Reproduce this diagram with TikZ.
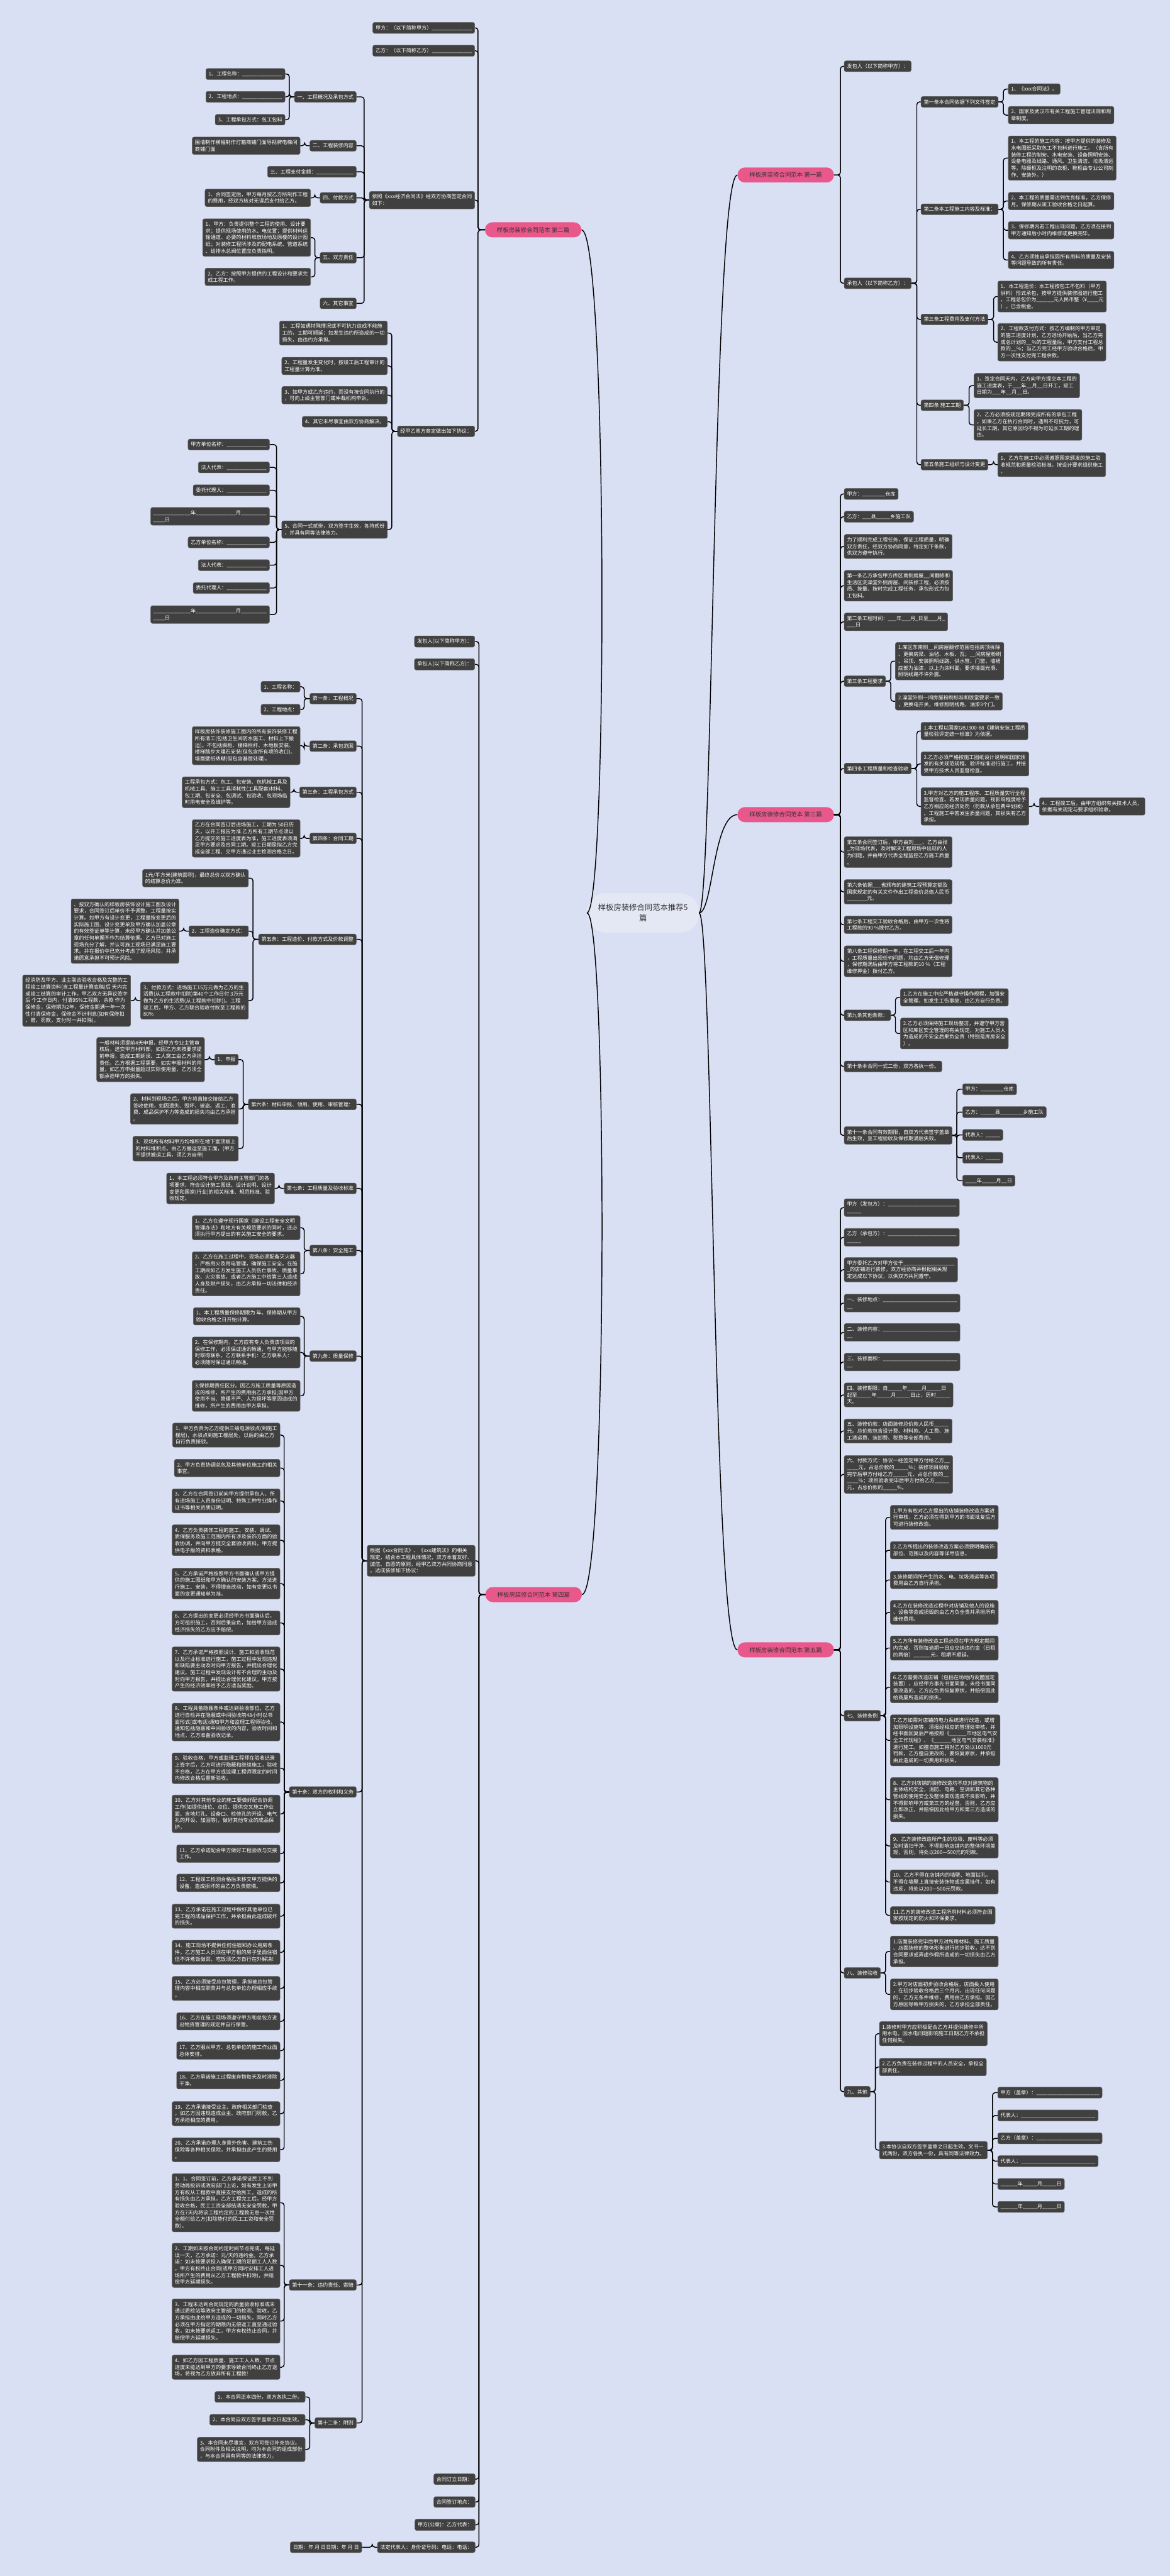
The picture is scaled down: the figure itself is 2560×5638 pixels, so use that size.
\documentclass[tikz,border=0pt]{standalone}
\usepackage{fontspec}
\setmainfont{Noto Sans CJK SC}
\definecolor{bgc}{RGB}{217,224,243}
\definecolor{boxc}{RGB}{64,64,64}
\definecolor{boxb}{RGB}{95,95,95}
\definecolor{pinkc}{RGB}{233,88,138}
\definecolor{cenc}{RGB}{228,232,245}
\newcommand\bx{\fontsize{11.2pt}{14.7pt}\selectfont}
\newcount\uscnt
\newcommand\us[1]{\uscnt=0\relax\loop\ifnum\uscnt<#1\relax\_\advance\uscnt by 1\relax\repeat}
\tikzset{
  box/.style={fill=boxc, draw=boxb, line width=0.8pt, text=white, rounded corners=4pt,
    inner xsep=6pt, inner ysep=6.5pt, align=left, font=\bx},
  conn/.style={draw=black, line width=2pt, rounded corners=6pt},
  pinkn/.style={fill=pinkc, rounded corners=16pt, minimum height=33pt, minimum width=211pt,
    font=\fontsize{13pt}{15pt}\selectfont, text=black!80, inner sep=2pt},
  cen/.style={fill=cenc, rounded corners=40pt, minimum height=86pt, minimum width=245pt,
    font=\fontsize{17pt}{23pt}\selectfont, text=black!80, align=center}
}
\newcommand\NL[4]{\node[box,anchor=east] (#1) at (#2,#3) {#4};}
\newcommand\NR[4]{\node[box,anchor=west] (#1) at (#2,#3) {#4};}
\newcommand\LL[3][11]{\draw[conn] (#2.west) -- ++(-#1,0) |- (#3.east);}
\newcommand\RR[3][11]{\draw[conn] (#2.east) -- ++(#1,0) |- (#3.west);}
\begin{document}
\begin{tikzpicture}[x=1pt,y=-1pt]
\fill[bgc] (0,0) rectangle (2560,5638);
\useasboundingbox (0,0) rectangle (2560,5638);

% centre and main branches
\node[cen] (C) at (1407,1998) {样板房装修合同范本推荐5\\篇};
\node[pinkn,anchor=east] (P1) at (1825,383) {样板房装修合同范本 第一篇};
\node[pinkn,anchor=west] (P2) at (1061,503) {样板房装修合同范本 第二篇};
\node[pinkn,anchor=east] (P3) at (1825,1783) {样板房装修合同范本 第三篇};
\node[pinkn,anchor=west] (P4) at (1062,3490) {样板房装修合同范本 第四篇};
\node[pinkn,anchor=east] (P5) at (1825,3611) {样板房装修合同范本 第五篇};
\draw[line width=2pt] (C.west) .. controls (1330,1998) and (1330,503) .. (P2.east);
\draw[line width=2pt] (C.west) .. controls (1330,1998) and (1330,3490) .. (P4.east);
\draw[line width=2pt] (C.east) .. controls (1560,1998) and (1560,383) .. (P1.west);
\draw[line width=2pt] (C.east) .. controls (1560,1998) and (1560,1783) .. (P3.west);
\draw[line width=2pt] (C.east) .. controls (1560,1998) and (1560,3611) .. (P5.west);

% ================= 第二篇 =================
\NL{a1}{1039}{61}{甲方：（以下简称甲方）\us{14}}
\NL{a2}{1039}{111}{乙方：（以下简称乙方）\us{14}}
\NL{a3}{1039}{438}{依照《xxx经济合同法》经双方协商签定合同\\如下：}
\NL{a31}{780}{212}{一、工程概况及承包方式}
\NL{a311}{624}{162}{1、工程名称：\us{14}}
\NL{a312}{624}{212}{2、工程地点：\us{14}}
\NL{a313}{624}{262}{3、工程承包方式：包工包料}
\NL{a32}{780}{319}{二、工程装修内容}
\NL{a321}{657}{319}{围墙制作横幅制作灯箱商铺门面导视牌电梯间\\商铺门面}
\NL{a33}{780}{376}{三、工程支付金额：\us{13}}
\NL{a34}{780}{433}{四、付款方式}
\NL{a341}{680}{433}{1、合同签定后，甲方每月按乙方所制作工程\\的费用，经双方核对无误后支付给乙方。}
\NL{a35}{780}{564}{五、双方责任}
\NL{a351}{680}{520}{1、甲方：负责提供整个工程的使用、设计要\\求；提供现场使用的水、电位置；提供材料运\\输通道、必要的材料堆放场地及原楼的设计图\\纸；对装修工程所涉及的配电系统、管道系统\\、给排水总阀位置应负责指明。}
\NL{a352}{680}{606}{2、乙方：按照甲方提供的工程设计和要求完\\成工程工作。}
\NL{a36}{780}{664}{六、其它事宜}
\NL{a4}{1039}{944}{经甲乙双方商定做出如下协议：}
\NL{a41}{848}{729}{1、工程如遇特殊情况或不可抗力造成不能施\\工的，工期可顺延；如发生违约所造成的一切\\损失，由违约方承担。}
\NL{a42}{848}{801}{2、工程量发生变化时，按竣工后工程审计的\\工程量计算为准。}
\NL{a43}{848}{865}{3、如甲方或乙方违约，而没有按合同执行的\\，可向上级主管部门或仲裁机构申诉。}
\NL{a44}{848}{923}{4、其它未尽事宜由双方协商解决。}
\NL{a45}{848}{1159}{5、合同一式贰份，双方签字生效，各持贰份\\，并具有同等法律效力。}
\NL{a451}{590}{973}{甲方单位名称：\us{14}}
\NL{a452}{590}{1023}{法人代表：\us{14}}
\NL{a453}{590}{1073}{委托代理人：\us{14}}
\NL{a454}{590}{1130}{\us{13}年\us{14}月\us{9}\\\us{4}日}
\NL{a455}{590}{1187}{乙方单位名称：\us{14}}
\NL{a456}{590}{1237}{法人代表：\us{14}}
\NL{a457}{590}{1287}{委托代理人：\us{14}}
\NL{a458}{590}{1345}{\us{13}年\us{14}月\us{9}\\\us{4}日}
\foreach \c in {a1,a2,a3,a4}{\LL[15]{P2}{\c}}
\foreach \c in {a31,a32,a33,a34,a35,a36}{\LL{a3}{\c}}
\foreach \c in {a311,a312,a313}{\LL{a31}{\c}}
\LL{a32}{a321}
\LL{a34}{a341}
\foreach \c in {a351,a352}{\LL{a35}{\c}}
\foreach \c in {a41,a42,a43,a44,a45}{\LL[12]{a4}{\c}}
\foreach \c in {a451,a452,a453,a454,a455,a456,a457,a458}{\LL{a45}{\c}}

% ================= 第一篇 =================
\NR{b1}{1847}{145}{发包人（以下简称甲方）：}
\NR{b2}{1847}{620}{承包人（以下简称乙方）：}
\NR{b21}{2015}{223}{第一条本合同依据下列文件签定}
\NR{b211}{2206}{195}{1、《xxx合同法》。}
\NR{b212}{2206}{252}{2、国家及武汉市有关工程施工管理法规和规\\章制度。}
\NR{b22}{2015}{458}{第二条本工程施工内容及标准：}
\NR{b221}{2206}{346}{1、本工程的施工内容：按甲方提供的装修及\\水电图纸采取包工不包料进行施工。（含所有\\装修工程的制安、水电安装、设备照明安装、\\设备电器及线路、通风、卫生清洁、垃圾清运\\等。除橱柜及注明的衣柜、鞋柜由专业公司制\\作、安装外。）}
\NR{b222}{2206}{440}{2、本工程的质量需达到优良标准，乙方保修\\月。保修期从竣工验收合格之日起算。}
\NR{b223}{2206}{504}{3、保修期内若工程出现问题，乙方须在接到\\甲方通知后小时内维修或更换完毕。}
\NR{b224}{2206}{569}{4、乙方须独自承担因所有用料的质量及安装\\等问题导致的所有责任。}
\NR{b23}{2015}{699}{第三条工程费用及支付方法}
\NR{b231}{2183}{649}{1、本工程造价：本工程按包工不包料（甲方\\供料）形式承包，按甲方提供装修图进行施工\\，工程总包价为\us{6}元人民币整（¥\us{4}元\\），已含税金。}
\NR{b232}{2183}{749}{2、工程款支付方式：按乙方编制的甲方审定\\的施工进度计划，乙方进场开始后，当乙方完\\成总计划的\us{2}\%的工程量后，甲方支付工程总\\款的\us{2}\%；当乙方完工经甲方验收合格后，甲\\方一次性支付完工程余款。}
\NR{b24}{2015}{887}{第四条 施工工期}
\NR{b241}{2131}{844}{1、签定合同天内，乙方向甲方提交本工程的\\施工进度表，于\us{3}年\us{2}月\us{2}日开工，竣工\\日期为\us{3}年\us{2}月\us{2}日。}
\NR{b242}{2131}{930}{2、乙方必须按规定期限完成所有的承包工程\\，如果乙方在执行合同时，遇到不可抗力，可\\延长工期，其它原因均不视为可延长工期的理\\由。}
\NR{b25}{2015}{1017}{第五条施工组织与设计变更}
\NR{b251}{2183}{1017}{1、乙方在施工中必须遵照国家颁发的施工验\\收规范和质量检验标准，按设计要求组织施工\\。}
\foreach \c in {b1,b2}{\RR[14]{P1}{\c}}
\foreach \c in {b21,b22,b23,b24,b25}{\RR[12]{b2}{\c}}
\foreach \c in {b211,b212}{\RR{b21}{\c}}
\foreach \c in {b221,b222,b223,b224}{\RR{b22}{\c}}
\foreach \c in {b231,b232}{\RR[12]{b23}{\c}}
\foreach \c in {b241,b242}{\RR[12]{b24}{\c}}
\RR[12]{b25}{b251}

% ================= 第三篇 =================
\NR{c1}{1847}{1081}{甲方：\us{8}仓库}
\NR{c2}{1847}{1131}{乙方：\us{3}县\us{5}乡施工队}
\NR{c3}{1847}{1196}{为了顺利完成工程任务，保证工程质量，明确\\双方责任，经双方协商同意，特定如下条款，\\供双方遵守执行。}
\NR{c4}{1847}{1282}{第一条乙方承包甲方库区南侧房屋\us{2}间翻修和\\生活区洗澡堂外侧房屋、间装修工程，必须按\\质、按量、按时完成工程任务，承包形式为包\\工包料。}
\NR{c5}{1847}{1361}{第二条工程时间：\us{3}年\us{3}月\us{1}日至\us{3}月\us{1}\\\us{3}日}
\NR{c6}{1847}{1491}{第三条工程要求}
\NR{c61}{1959}{1447}{1.库区东南侧\us{2}间房屋翻修范围包括房顶拆除\\、更换房梁、油毡、木板、瓦；\us{2}间房屋粉刷\\、吊顶、安装照明线路、供水管、门窗，墙裙\\底部为油漆，以上为涂料面，要求墙面光滑、\\照明线路不许外露。}
\NR{c62}{1959}{1535}{2.澡堂外侧一间房屋粉刷标准和饭堂要求一致\\，更换电开关，维修照明线路，油漆3个门。}
\NR{c7}{1847}{1682}{第四条工程质量和检查验收}
\NR{c71}{2015}{1600}{1.本工程以国家GBJ300-88《建筑安装工程质\\量检验评定统一标准》为依据。}
\NR{c72}{2015}{1672}{2.乙方必须严格按施工图纸设计说明和国家颁\\发的有关规范规程、验评标准进行施工，并接\\受甲方技术人员监督检查。}
\NR{c73}{2015}{1765}{3.甲方对乙方的施工程序、工程质量实行全程\\监督检查。若发现质量问题，视影响程度给予\\乙方相应的经济处罚（罚款从承包费中划拨）\\。工程施工中若发生质量问题，其损失有乙方\\承担。}
\NR{c731}{2274}{1765}{4．工程竣工后，由甲方组织有关技术人员，\\依据有关规定与要求组织验收。}
\NR{c8}{1847}{1865}{第五条合同签订后，甲方由刘\us{3}、乙方由张\\\us{1}为现场代表，及时解决工程现场中出现的人\\为问题，并由甲方代表全程监控乙方施工质量\\。}
\NR{c9}{1847}{1952}{第六条依据\us{3}省颁布的建筑工程预算定额及\\国家规定的有关文件作出工程造价总值人民币\\\us{7}元。}
\NR{c10}{1847}{2024}{第七条工程交工验收合格后，由甲方一次性将\\工程款的90 \%拨付乙方。}
\NR{c11}{1847}{2104}{第八条工程保修期一年，在工程交工后一年内\\，工程质量出现任何问题，均由乙方无偿修理\\，保修期满后由甲方将工程款的10 \%（工程\\维修押金）拨付乙方。}
\NR{c12}{1847}{2222}{第九条其他条款：}
\NR{c121}{1970}{2183}{1.乙方在施工中应严格遵守操作规程，加强安\\全管理，如发生工伤事故，由乙方自行负责。}
\NR{c122}{1970}{2262}{2.乙方必须保持施工现场整洁，并遵守甲方营\\区和库区安全管理的有关规定，对施工人员人\\为造成的不安全后果负全责（特别是库房安全\\）。}
\NR{c13}{1847}{2334}{第十条本合同一式二份，双方各执一份。}
\NR{c14}{1847}{2485}{第十一条合同有效期限，自双方代表签字盖章\\后生效，至工程验收及保修期满后失效。}
\NR{c141}{2106}{2384}{甲方：\us{8}仓库}
\NR{c142}{2106}{2434}{乙方：\us{5}县\us{8}乡施工队}
\NR{c143}{2106}{2484}{代表人：\us{5}}
\NR{c144}{2106}{2534}{代表人：\us{5}}
\NR{c145}{2106}{2584}{\us{4}年\us{5}月\us{2}日}
\foreach \c in {c1,c2,c3,c4,c5,c6,c7,c8,c9,c10,c11,c12,c13,c14}{\RR[14]{P3}{\c}}
\foreach \c in {c61,c62}{\RR[11]{c6}{\c}}
\foreach \c in {c71,c72,c73}{\RR[12]{c7}{\c}}
\RR[11]{c73}{c731}
\foreach \c in {c121,c122}{\RR[10]{c12}{\c}}
\foreach \c in {c141,c142,c143,c144,c145}{\RR[10]{c14}{\c}}

% ================= 第五篇 =================
\NR{d1}{1847}{2643}{甲方（发包方）：\us{24}\\\us{5}}
\NR{d2}{1847}{2708}{乙方（承包方）：\us{24}\\\us{5}}
\NR{d3}{1847}{2779}{甲方委托乙方对甲方位于\us{18}\\\us{1}的店铺进行装修，双方经协商并根据相关规\\定达成以下协议，以供双方共同遵守。}
\NR{d4}{1847}{2852}{一、装修地点：\us{26}\\\us{2}}
\NR{d5}{1847}{2916}{二、装修内容：\us{26}\\\us{2}}
\NR{d6}{1847}{2981}{三、装修面积：\us{26}\\\us{2}}
\NR{d7}{1847}{3053}{四、装修期限：自\us{5}年\us{5}月\us{5}日\\起至\us{5}年\us{5}月\us{5}日止，历时\us{5}\\天。}
\NR{d8}{1847}{3132}{五、装修价款：店面装修总价款人民币\us{5}\\元。总价款包含设计费、材料款、人工费、施\\工清运费、装卸费、税费等全部费用。}
\NR{d9}{1847}{3227}{六、付款方式：协议一经签定甲方付给乙方\us{2}\\\us{4}元，占总价款的\us{5}\%；装修项目验收\\完毕后甲方付给乙方\us{5}元，占总价款的\us{2}\\\us{4}\%；项目验收完毕后甲方付给乙方\us{5}\\元，占总价款的\us{5}\%。}
\NR{d10}{1847}{3755}{七、装修条例}
\NR{d101}{1948}{3321}{1.甲方有权对乙方提出的店铺装修改造方案进\\行审核，乙方必须在得到甲方的书面批复后方\\可进行装修改造。}
\NR{d102}{1948}{3393}{2.乙方所提出的装修改造方案必须要明确装饰\\部位、范围以及内容等详尽信息。}
\NR{d103}{1948}{3458}{3.装修期间所产生的水、电、垃圾清运等各项\\费用由乙方自行承担。}
\NR{d104}{1948}{3529}{4.乙方在装修改造过程中对店铺及他人的设施\\、设备等造成损毁的由乙方负全责并承担所有\\维修费用。}
\NR{d105}{1948}{3607}{5.乙方所有装修改造工程必须在甲方规定期间\\内完成，否则每逾期一日应交纳违约金（日租\\的两倍）\us{6}元，租期不顺延。}
\NR{d106}{1948}{3693}{6.乙方需要改造店铺（包括在场地内设置固定\\装置），应经甲方事先书面同意。未经书面同\\意改造的，乙方应负责恢复原状，并赔偿因此\\给商厦所造成的损失。}
\NR{d107}{1948}{3809}{7.乙方如需对店铺的电力系统进行改造，或增\\加照明设施等，须报经相应的管理处审核，并\\经书面回复后严格按照《\us{6}市地区电气安\\全工作规程》、《\us{6}地区电气安装标准》\\进行施工。如擅自施工将对乙方处以1000元\\罚款，乙方擅自更改的，要恢复原状，并承担\\由此造成的一切费用和损失。}
\NR{d108}{1948}{3939}{8、乙方对店铺的装修改造均不应对建筑物的\\主体结构安全，消防、电路、空调和其它各种\\管线的使用安全及整体美观造成不良影响，并\\不得影响甲方或第三方的经营，否则，乙方应\\立即改正，并赔偿因此给甲方和第三方造成的\\损失。}
\NR{d109}{1948}{4040}{9、乙方装修改造所产生的垃圾、废料等必须\\及时清扫干净，不得影响店铺内的整体环境美\\观，否则，将处以200—500元的罚款。}
\NR{d1010}{1948}{4119}{10、乙方不得在店铺内的墙壁、地面钻孔，\\不得在墙壁上直接安装饰物或金属挂件，如有\\违反，将处以200—500元罚款。}
\NR{d1011}{1948}{4192}{11.乙方的装修改造工程所用材料必须符合国\\家按规定的防火和环保要求。}
\NR{d11}{1847}{4318}{八、装修验收}
\NR{d111}{1948}{4271}{1.店面装修完毕后甲方对所用材料、施工质量\\、店面装修的整体形象进行初步验收，达不到\\合同要求或弄虚作假所造成的一切损失由乙方\\承担。}
\NR{d112}{1948}{4365}{2.甲方对店面初步验收合格后，店面投入使用\\，在初步验收合格后三个月内，出现任何问题\\的，乙方无条件维修，费用由乙方承担。因乙\\方原因导致甲方损失的，乙方承担全部责任。}
\NR{d12}{1847}{4578}{九、其他}
\NR{d121}{1924}{4451}{1.装修时甲方应积极配合乙方并提供装修中所\\用水电。因水电问题影响施工日期乙方不承担\\任何损失。}
\NR{d122}{1924}{4524}{2.乙方负责在装修过程中的人员安全，承担全\\部责任。}
\NR{d123}{1924}{4706}{3.本协议自双方签字盖章之日起生效。文书一\\式两份，双方各执一份，具有同等法律效力。}
\NR{d1231}{2183}{4580}{甲方（盖章）：\us{22}}
\NR{d1232}{2183}{4630}{代表人：\us{26}}
\NR{d1233}{2183}{4680}{乙方（盖章）：\us{22}}
\NR{d1234}{2183}{4730}{代表人：\us{26}}
\NR{d1235}{2183}{4780}{\us{6}年\us{5}月\us{5}日}
\NR{d1236}{2183}{4830}{\us{6}年\us{5}月\us{5}日}
\foreach \c in {d1,d2,d3,d4,d5,d6,d7,d8,d9,d10,d11,d12}{\RR[14]{P5}{\c}}
\foreach \c in {d101,d102,d103,d104,d105,d106,d107,d108,d109,d1010,d1011}{\RR[11]{d10}{\c}}
\foreach \c in {d111,d112}{\RR[11]{d11}{\c}}
\foreach \c in {d121,d122,d123}{\RR[11]{d12}{\c}}
\foreach \c in {d1231,d1232,d1233,d1234,d1235,d1236}{\RR[11]{d123}{\c}}

% ================= 第四篇 =================
\NL{e1}{1039}{1404}{发包人(以下简称甲方)：}
\NL{e2}{1039}{1454}{承包人(以下简称乙方)：}
\NL{e3}{1040}{3416}{根据《xxx合同法》、《xxx建筑法》的相关\\规定，结合本工程具体情况，双方本着友好、\\诚信、自愿的原则，经甲乙双方共同协商同意\\，达成装修如下协议：}
\NL{e4}{1040}{5426}{合同订立日期：}
\NL{e5}{1040}{5476}{合同签订地点：}
\NL{e6}{1040}{5526}{甲方(公章)：乙方代表：}
\NL{e7}{1040}{5575}{法定代表人：身份证号码：电话：电话：}
\NL{e71}{792}{5575}{日期：年 月 日日期：年 月 日}
\NL{f1}{780}{1529}{第一条：工程概况}
\NL{f11}{657}{1503}{1、工程名称：}
\NL{f12}{657}{1553}{2、工程地点：}
\NL{f2}{780}{1633}{第二条：承包范围}
\NL{f21}{657}{1632}{样板房装饰装修施工图内的所有装饰装修工程\\所有清工(包括卫生间防水施工、材料上下搬\\运)。不包括橱柜、楼梯栏杆、木地板安装、\\楼梯踏步大理石安装(但包含所有项的收口)、\\墙面壁纸裱糊(但包含基层处理)。}
\NL{f3}{780}{1734}{第三条：工程承包方式}
\NL{f31}{635}{1734}{工程承包方式：包工、包安装、包机械工具及\\机械工具、施工工具消耗性(工具配套)材料、\\包工期、包安全、包调试、包验收、包现场临\\时用电安全及维护等。}
\NL{f4}{780}{1835}{第四条：合同工期}
\NL{f41}{657}{1835}{乙方在合同签订后进场施工，工期为 50日历\\天，以开工报告为准.乙方所有工期节点须以\\乙方提交的施工进度表为准，施工进度表须满\\足甲方要求及合同工期。竣工日期是指乙方完\\成全部工程、交甲方通过业主检测合格之日。}
\NL{f5}{780}{2056}{第五条：工程造价、付款方式及价款调整}
\NL{f51}{544}{1922}{1元/平方米(建筑面积)，最终总价以双方确认\\的结算总价为准。}
\NL{f52}{544}{2038}{2、工程造价确定方式：}
\NL{f521}{392}{2038}{、按双方确认的样板房装饰设计施工图及设计\\要求，合同签订后单价不予调整，工程量按实\\计算。如甲方有设计变更，工程量按变更后的\\实际施工图、设计变更单及甲方确认加盖公章\\的有效签证单等计算，未经甲方确认并加盖公\\章的任何单据不作为结算依据。乙方已对施工\\现场充分了解，并认可施工现场已满足施工要\\求。并在报价中已充分考虑了现场风险，并承\\诺愿意承担不可预计风险。}
\NL{f53}{544}{2190}{3、付款方式：进场施工15万元做为乙方的生\\活费(从工程款中扣除)第40个工作日付 3万元\\做为乙方的生活费(从工程款中扣除))。工程\\竣工后，甲方、乙方联合验收付款至工程款的\\ 80\%}
\NL{f531}{286}{2190}{经消防及甲方、业主联合验收合格及完整的工\\程竣工结算资料(含工程量计算底稿)后 天内完\\成竣工结算的审计工作，甲乙双方无异议签字\\后 个工作日内，付清95\%工程款，余款 作为\\保修金，保修期为2年，保修金期满一年一次\\性付清保修金，保修金不计利息(如有保修扣\\、赔、罚款，支付时一并扣除)。}
\NL{f6}{780}{2417}{第六条：材料申报、领用、使用、审核管理：}
\NL{f61}{522}{2319}{1、申报}
\NL{f611}{448}{2319}{一般材料须提前4天申报，经甲方专业主管审\\核后，送交甲方材料部，如因乙方未按要求提\\前申报，造成工期延误、工人窝工由乙方承担\\责任。乙方根据工程需要，如实申报材料的用\\量，如乙方申报量超过实际使用量，乙方须全\\额承担甲方的损失。}
\NL{f62}{522}{2427}{2、材料到现场之后，甲方将直接交接给乙方\\签收使用，如因遗失、毁坏、被盗、返工、浪\\费、成品保护不力等造成的损失均由乙方承担\\。}
\NL{f63}{522}{2514}{3、现场所有材料甲方均堆积在地下室顶板上\\的材料堆积点。由乙方搬运至施工面，(甲方\\不提供搬运工具，须乙方自带)}
\NL{f7}{780}{2601}{第七条：工程质量及验收标准}
\NL{f71}{601}{2601}{1、本工程必须符合甲方及政府主管部门的各\\项要求，符合设计施工图纸、设计说明、设计\\变更和国家(行业)的相关标准、规范标准、验\\收规定。}
\NL{f8}{780}{2737}{第八条：安全施工}
\NL{f81}{657}{2687}{1、乙方在遵守现行国家《建设工程安全文明\\管理办法》和地方有关规范要求的同时，还必\\须执行甲方提出的有关施工安全的要求。}
\NL{f82}{657}{2788}{2、乙方在施工过程中，现场必须配备灭火器\\，严格用火及用电管理，确保施工安全。在施\\工期间如乙方发生施工人员伤亡事故、质量事\\故、火灾事故，或者乙方施工中给第三人造成\\人身及财产损失，由乙方承担一切法律和经济\\责任。}
\NL{f9}{780}{2968}{第九条：质量保修}
\NL{f91}{657}{2881}{1、本工程质量保修期限为 年。保修期从甲方\\验收合格之日开始计算。}
\NL{f92}{657}{2960}{2、在保修期内，乙方应有专人负责该项目的\\保修工作，必须保证通讯畅通，与甲方能够随\\时取得联系。乙方联系手机：乙方联系人：\\必须随时保证通讯畅通。}
\NL{f93}{657}{3055}{3.保修期责任区分。因乙方施工质量等原因造\\成的维修，所产生的费用由乙方承担;因甲方\\使用不当、管理不严、人为损坏等原因造成的\\维修，所产生的费用由甲方承担。}
\NL{g0}{780}{3922}{第十条：双方的权利和义务}
\NL{g1}{613}{3141}{1、甲方负责为乙方提供三级电源驳点(到施工\\楼层)，水驳点到施工楼层处，以后的由乙方\\自行负责接驳。}
\NL{g2}{613}{3213}{2、甲方负责协调总包及其他单位施工的相关\\事宜。}
\NL{g3}{613}{3285}{3、乙方在合同签订前向甲方提供承包人、所\\有进场施工人员身份证明、特殊工种专业操作\\证书等相关资质证明。}
\NL{g4}{613}{3371}{4、乙方负责装饰工程的施工、安装、调试、\\质保服务及施工范围内所有涉及装饰方面的验\\收协调，并向甲方提交全套验收资料，甲方提\\供电子版的资料表格。}
\NL{g5}{613}{3466}{5、乙方承诺严格按照甲方书面确认或甲方提\\供的施工图纸和甲方确认的安装方案、方法进\\行施工、安装，不得擅自改动，如有变更以书\\面的变更通知单为准。}
\NL{g6}{613}{3552}{6、乙方提出的变更必须经甲方书面确认后，\\方可组织施工，否则后果自负，如给甲方造成\\经济损失的乙方应予赔偿。}
\NL{g7}{613}{3653}{7、乙方承诺严格按照设计、施工和验收规范\\以及行业标准进行施工，施工过程中发现违规\\和缺陷要主动及时向甲方报告，并提出合理化\\建议。施工过程中发现设计有不合理的主动及\\时向甲方报告，并提出合理优化建议，甲方按\\产生的经济效率给予乙方适当奖励。}
\NL{g8}{613}{3769}{8、工程具备隐蔽条件或达到验收部位，乙方\\进行自检并在隐蔽或中间验收前48小时以书\\面形式(或电话)通知甲方和监理工程师验收，\\通知包括隐蔽和中间验收的内容，验收时间和\\地点，乙方准备验收记录。}
\NL{g9}{613}{3870}{9、验收合格，甲方或监理工程师在验收记录\\上签字后，乙方可进行隐蔽和继续施工，验收\\不合格，乙方在甲方或监理工程师限定的时间\\内修改合格后重新验收。}
\NL{g10}{613}{3970}{10、乙方对其他专业的施工要做好配合协调\\工作(如提供线位、点位、提供交叉施工作业\\面、含地灯孔、设备口、检修孔的开设、电气\\孔的开设、加固等)，做好其他专业的成品保\\护，}
\NL{g11}{613}{4057}{11、乙方承诺配合甲方做好工程验收与交接\\工作。}
\NL{g12}{613}{4121}{12、工程竣工检测合格后未移交甲方提供的\\设备，造成损坏的由乙方负责赔偿。}
\NL{g13}{613}{4194}{13、乙方承诺在施工过程中做好其他单位已\\完工程的成品保护工作，并承担由此造成破坏\\的损失。}
\NL{g14}{613}{4273}{14、施工现场不提供任何住宿和办公用房条\\件，乙方施工人员须在甲方租的房子里面住宿\\但不许煮饭做菜，吃饭须乙方自行在外解决!}
\NL{g15}{613}{4352}{15、乙方必须接受总包管理，承担被总包管\\理内容中相应职责并与总包单位办理相应手续\\。}
\NL{g16}{613}{4424}{16、乙方在施工现场须遵守甲方和总包方进\\出物资管理的规定并自行保管。}
\NL{g17}{613}{4488}{17、乙方服从甲方、总包单位的施工作业面\\总体安排。}
\NL{g18}{613}{4553}{18、乙方承诺施工过程废弃物每天及时清除\\干净。}
\NL{g19}{613}{4626}{19、乙方承诺接受业主、政府相关部门检查\\，如乙方因违规造成业主、政府部门罚款，乙\\方承担相应的费用。}
\NL{g20}{613}{4705}{20、乙方承诺办理人身意外伤害、建筑工伤\\保险等各种相关保险，并承担由此产生的费用\\。}
\NL{h0}{780}{5001}{第十一条：违约责任、索赔}
\NL{h1}{613}{4821}{1、1、合同签订前，乙方承诺保证民工不到\\劳动局投诉或政府部门上访，如有发生上访甲\\方有权从工程款中直接支付给民工，造成的所\\有损失由乙方承担。乙方工程完工后，经甲方\\验收合格，民工工资全部结清无安全罚款，甲\\方在7天内将该工程约定的工程款无息一次性\\全额付给乙方(扣除垫付的民工工资和安全罚\\款)。}
\NL{h2}{613}{4958}{2、工期如未按合同约定时间节点完成，每延\\误一天，乙方承诺：元/天的违约金。乙方承\\诺：如未按要求投入确保工期的足额工人人数\\，甲方有权终止合同(或甲方同时安排工人进\\场所产生的费用从乙方工程款中扣除)，并赔\\偿甲方延期损失。}
\NL{h3}{613}{5080}{3、工程未达到合同规定的质量验收标准或未\\通过质检站等政府主管部门的检测、验收，乙\\方承担由此给甲方造成的一切损失，同时乙方\\必须在甲方指定的期限内无偿返工直至通过验\\收，如未按要求返工，甲方有权终止合同，并\\赔偿甲方延期损失。}
\NL{h4}{613}{5181}{4、如乙方因工程质量、施工工人人数、节点\\进度未能达到甲方的要求导致合同终止乙方退\\场，将视为乙方放弃所有工程款!}
\NL{k0}{780}{5303}{第十二条：附则}
\NL{k1}{668}{5246}{1、本合同正本四份，双方各执二份。}
\NL{k2}{668}{5296}{2、本合同自双方签字盖章之日起生效。}
\NL{k3}{668}{5361}{3、本合同未尽事宜，双方可签订补充协议。\\合同附件及相关说明，均为本合同的组成部份\\，与本合同具有同等的法律效力。}
\foreach \c in {e1,e2,e3,e4,e5,e6,e7}{\LL[14]{P4}{\c}}
\LL[11]{e7}{e71}
\foreach \c in {f1,f2,f3,f4,f5,f6,f7,f8,f9,g0,h0,k0}{\LL[11]{e3}{\c}}
\foreach \c in {f11,f12}{\LL[12]{f1}{\c}}
\LL[12]{f2}{f21}
\LL[12]{f3}{f31}
\LL[12]{f4}{f41}
\foreach \c in {f51,f52,f53}{\LL[12]{f5}{\c}}
\LL[11]{f52}{f521}
\LL[11]{f53}{f531}
\foreach \c in {f61,f62,f63}{\LL[11]{f6}{\c}}
\LL[11]{f61}{f611}
\LL[11]{f7}{f71}
\foreach \c in {f81,f82}{\LL[12]{f8}{\c}}
\foreach \c in {f91,f92,f93}{\LL[12]{f9}{\c}}
\foreach \c in {g1,g2,g3,g4,g5,g6,g7,g8,g9,g10,g11,g12,g13,g14,g15,g16,g17,g18,g19,g20}{\LL[11]{g0}{\c}}
\foreach \c in {h1,h2,h3,h4}{\LL[11]{h0}{\c}}
\foreach \c in {k1,k2,k3}{\LL[11]{k0}{\c}}
\end{tikzpicture}
\end{document}
